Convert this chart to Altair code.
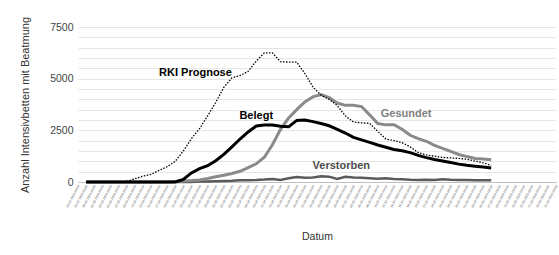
import altair as alt
import pandas as pd
from datetime import datetime, timedelta, timezone

# ---- data, one value every 2 days ----
start = datetime(2020, 2, 24, tzinfo=timezone.utc)
days = list(range(2, 103, 2))

rki = [None, None, None, None, None, 30, 150, 280, 370, 560, 740, 1000, 1500, 2100, 2580,
       3200, 3850, 4580, 5040, 5150, 5350, 5850, 6250, 6250, 5820, 5800, 5800, 5250, 4600,
       4200, 4000, 3700, 3200, 2900, 2860, 2840, 2450, 2080, 2000, 1900, 1700, 1420, 1310,
       1250, 1190, 1165, 1140, 1100, 1010, 930, 800]
belegt = [0, 0, 0, 0, 0, 0, 0, 0, 0, 0, 0, 0, 130, 440, 650, 790, 1030, 1340, 1700, 2080,
          2420, 2710, 2760, 2760, 2700, 2670, 2980, 3000, 2920, 2830, 2720, 2550, 2370, 2160,
          2040, 1920, 1790, 1680, 1575, 1510, 1420, 1290, 1180, 1090, 1020, 940, 865, 810,
          765, 725, 680]
gesundet = [0, 0, 0, 0, 0, 0, 0, 0, 0, 0, 0, 20, 50, 70, 100, 170, 250, 330, 410, 520, 700,
            880, 1200, 1800, 2550, 3100, 3500, 3870, 4120, 4230, 4080, 3820, 3710, 3710, 3650,
            3250, 2830, 2765, 2770, 2550, 2260, 2100, 1970, 1770, 1630, 1480, 1330, 1230,
            1140, 1110, 1075]
verstorben = [0, 0, 0, 0, 0, 0, 0, 0, 0, 0, 0, 0, 0, 0, 20, 30, 40, 50, 60, 80, 90, 100,
              120, 150, 100, 180, 240, 200, 220, 280, 260, 150, 250, 220, 200, 180, 160, 180,
              140, 130, 110, 100, 110, 100, 130, 110, 100, 100, 90, 90, 80]

series_names = ["Verstorben", "Gesundet", "Belegt", "RKI Prognose"]
series_values = [verstorben, gesundet, belegt, rki]

label_texts = ["RKI Prognose", "Belegt", "Gesundet", "Verstorben"]
label_days = [29, 44, 81, 65]
label_values = [5280, 3190, 3290, 770]

y_ticks = list(range(0, 7501, 500))
axis_days = list(range(0, 119, 2))


def ms(d):
    return int((start + timedelta(days=d)).timestamp() * 1000)


rows = []
for name, vals in zip(series_names, series_values):
    for d, v in zip(days, vals):
        rows.append({"serie": name, "datum": ms(d), "wert": v})
df = pd.DataFrame(rows)

lab = pd.DataFrame({"text": label_texts,
                    "datum": [ms(d) for d in label_days],
                    "wert": label_values})

FONT = "Liberation Sans"

x_enc = alt.X("datum:T",
              scale=alt.Scale(type="utc", domain=[ms(0), ms(118)]),
              axis=alt.Axis(title="Datum", values=[ms(d) for d in axis_days],
                            labelExpr="utcFormat(datum.value, '%d.%m.%Y %H:%M')",
                            labelAngle=-62, labelAlign="right", labelBaseline="middle",
                            labelFontSize=3.2, labelColor="#4d4d4d", labelPadding=3,
                            labelOverlap=False, labelFlush=False, labelFont=FONT,
                            ticks=False, grid=False, domain=True,
                            domainColor="#bfbfbf", domainWidth=1.2,
                            titleFontSize=10.5, titleFontWeight="normal",
                            titleColor="#333333", titlePadding=24, titleFont=FONT))
y_enc = alt.Y("wert:Q",
              scale=alt.Scale(domain=[0, 7500], nice=False),
              axis=alt.Axis(title="Anzahl Intensivbetten mit Beatmung", values=y_ticks,
                            labelExpr="datum.value % 2500 === 0 ? format(datum.value, 'd') : ''",
                            labelFontSize=10.5, labelColor="#444444", labelPadding=5,
                            labelFont=FONT, labelOverlap=False,
                            ticks=False, domain=False, grid=True,
                            gridColor="#e6e6e6", gridWidth=1,
                            titleFontSize=11, titleFontWeight="normal",
                            titleColor="#333333", titlePadding=19, titleFont=FONT))

styles = {
    "Verstorben": dict(color="#5a5a5a", strokeWidth=2.5),
    "Gesundet": dict(color="#8a8a8a", strokeWidth=3),
    "Belegt": dict(color="#000000", strokeWidth=3),
    "RKI Prognose": dict(color="#000000", strokeWidth=1.3, strokeDash=[1.5, 1.5]),
}

layers = []
for name in series_names:
    layers.append(
        alt.Chart(df).transform_filter(alt.datum.serie == name)
        .mark_line(**styles[name])
        .encode(x=x_enc, y=y_enc)
    )

label_colors = {"RKI Prognose": "#000000", "Belegt": "#000000",
                "Gesundet": "#7f7f7f", "Verstorben": "#4d4d4d"}
text = alt.Chart(lab).mark_text(fontSize=11, fontWeight="bold", font=FONT).encode(
    x=x_enc, y=y_enc, text="text:N",
    color=alt.Color("text:N", scale=alt.Scale(domain=list(label_colors.keys()),
                                                range=list(label_colors.values())),
                    legend=None))
layers.append(text)

chart = alt.layer(*layers).properties(
    width=478, height=155,
    autosize=alt.AutoSizeParams(type="none"),
    padding={"left": 78, "top": 27, "right": 3, "bottom": 73},
    background="white",
).configure_view(stroke=None)

chart.save("out.html", embed_options={"renderer": "svg", "actions": False})
